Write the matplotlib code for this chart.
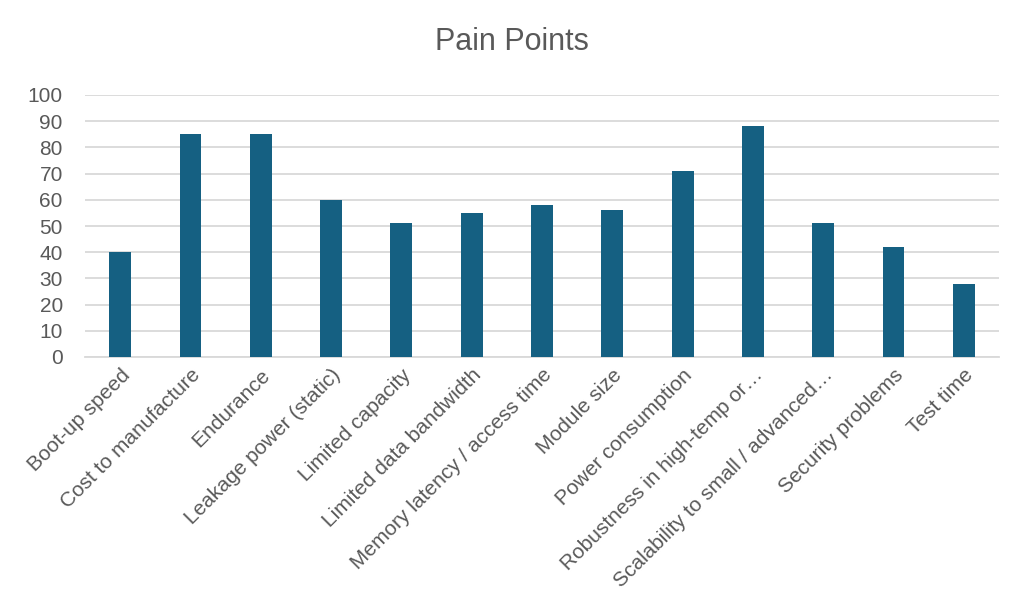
import matplotlib
matplotlib.use('Agg')
import matplotlib.pyplot as plt

# values
categories = ['Boot-up speed', 'Cost to manufacture', 'Endurance', 'Leakage power (static)',
              'Limited capacity', 'Limited data bandwidth', 'Memory latency / access time',
              'Module size', 'Power consumption', 'Robustness in high-temp or\u2026',
              'Scalability to small / advanced\u2026', 'Security problems', 'Test time']
scores = [40, 85, 85, 60, 51, 55, 58, 56, 71, 88, 51, 42, 28]
y_ticks = list(range(0, 101, 10))

BAR_COLOR = '#156082'
TEXT_COLOR = '#595959'
GRID_COLOR = '#D9D9D9'

plt.rcParams['font.family'] = ['Liberation Sans', 'DejaVu Sans']


def main():
    fig = plt.figure(figsize=(10.22, 6.08), dpi=100)
    ax = fig.add_axes([85 / 1022, 1 - 357 / 608, 914 / 1022, 262 / 608])

    x = list(range(len(categories)))
    ax.bar(x, scores, width=0.31, color=BAR_COLOR, zorder=3)

    ax.set_xlim(-0.5, len(categories) - 0.5)
    ax.set_ylim(0, 100)
    ax.set_yticks(y_ticks)
    ax.yaxis.grid(True, color=GRID_COLOR, linewidth=1.3, zorder=0)
    ax.set_axisbelow(True)
    for side in ('top', 'right', 'left'):
        ax.spines[side].set_visible(False)
    ax.spines['bottom'].set_color(GRID_COLOR)
    ax.spines['bottom'].set_linewidth(1.3)
    ax.tick_params(axis='both', length=0, colors=TEXT_COLOR, labelsize=15)
    ax.tick_params(axis='y', pad=16)
    ax.tick_params(axis='x', pad=6)
    ax.set_xticks(x)
    ax.set_xticklabels(categories, rotation=45, ha='right', rotation_mode='anchor')

    fig.text(512 / 1022, 1 - 42 / 608, 'Pain Points', ha='center', va='center',
             fontsize=22, color=TEXT_COLOR)

    fig.savefig('out.png', dpi=100, facecolor='white')


if __name__ == '__main__':
    main()
